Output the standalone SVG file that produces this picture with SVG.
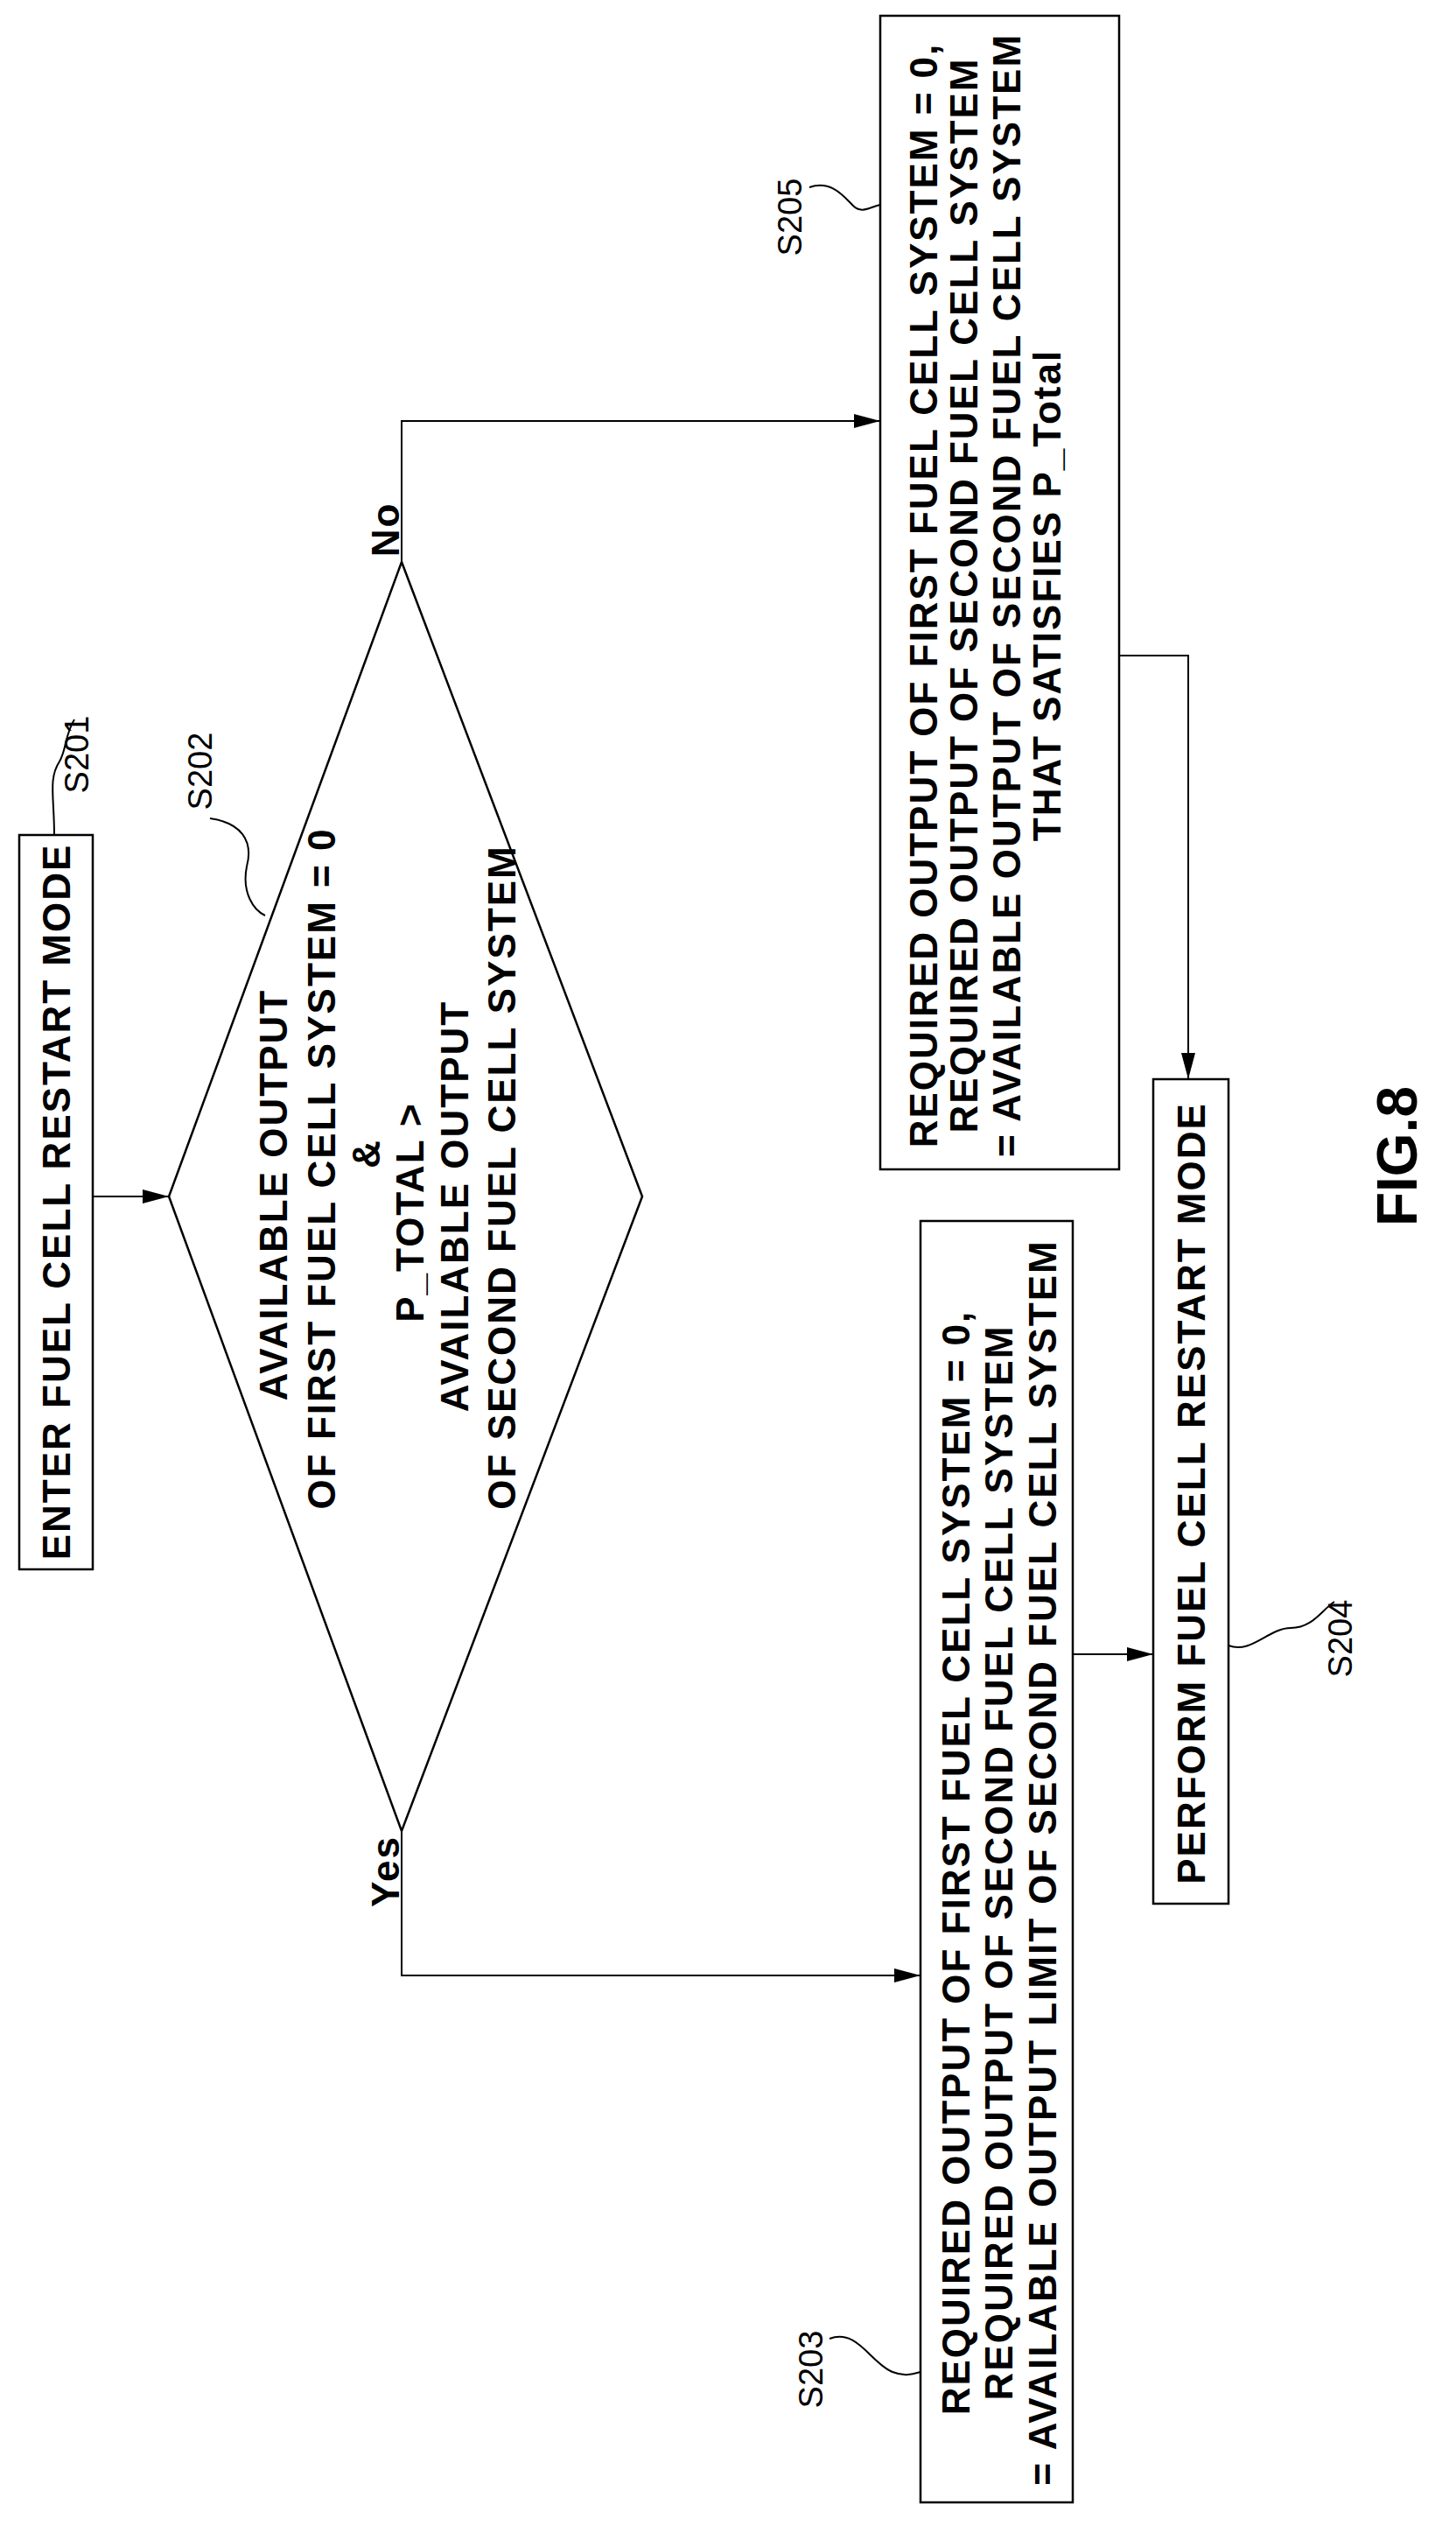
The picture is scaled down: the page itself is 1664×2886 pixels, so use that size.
<svg xmlns="http://www.w3.org/2000/svg" width="1664" height="2886" viewBox="0 0 1664 2886">
<style>
text{font-family:"Liberation Sans",Arial,sans-serif;font-weight:bold;fill:#000}
.t{font-size:44px;letter-spacing:2px}
.lb{font-size:38px;font-weight:normal}
.box{fill:#fff;stroke:#000;stroke-width:2.5}
.ln{fill:none;stroke:#000;stroke-width:2}
</style>
<defs>
<marker id="ah2" markerWidth="30" markerHeight="16" refX="30" refY="8" orient="auto" markerUnits="userSpaceOnUse" viewBox="0 0 30 16"><path d="M0,0 L30,8 L0,16 Z" fill="#000"/></marker></defs>
<rect width="1664" height="2886" fill="#fff"/>
<g id="connectors">
<path class="ln" d="M106,1367 H193" marker-end="url(#ah2)"/>
<path class="ln" d="M459,642 V481 H1006" marker-end="url(#ah2)"/>
<path class="ln" d="M459,2092 V2257 H1052" marker-end="url(#ah2)"/>
<path class="ln" d="M1279,749 H1358 V1233" marker-end="url(#ah2)"/>
<path class="ln" d="M1226,1890 H1318" marker-end="url(#ah2)"/>
</g>
<g id="S201">
<rect class="box" x="22" y="954" width="84" height="839"/>
<text class="t" transform="translate(64,1373) rotate(-90)" text-anchor="middle" dominant-baseline="central">ENTER FUEL CELL RESTART MODE</text>
<text class="lb" transform="translate(88,862) rotate(-90)" text-anchor="middle" dominant-baseline="central">S201</text>
<path class="ln" d="M62,954 C62,910 55,890 68,870 C76,856 74,840 85,822"/>
</g>
<g id="S202">
<polygon class="box" points="459,642 734,1367 459,2092 193,1367"/>
<g class="t" text-anchor="middle" dominant-baseline="central">
<text transform="translate(312,1365) rotate(-90)">AVAILABLE OUTPUT</text>
<text transform="translate(367,1335) rotate(-90)">OF FIRST FUEL CELL SYSTEM = 0</text>
<text transform="translate(418,1318) rotate(-90)">&amp;</text>
<text transform="translate(468,1385) rotate(-90)">P_TOTAL &gt;</text>
<text transform="translate(519,1378) rotate(-90)">AVAILABLE OUTPUT</text>
<text transform="translate(573,1345) rotate(-90)">OF SECOND FUEL CELL SYSTEM</text>
</g>
<text class="lb" transform="translate(229,881) rotate(-90)" text-anchor="middle" dominant-baseline="central">S202</text>
<path class="ln" d="M240,935 C275,940 290,960 282,990 C276,1020 290,1040 303,1046"/>
<text class="t" transform="translate(440,605) rotate(-90)" text-anchor="middle" dominant-baseline="central">No</text>
<text class="t" transform="translate(440,2138) rotate(-90)" text-anchor="middle" dominant-baseline="central">Yes</text>
</g>
<g id="S205">
<rect class="box" x="1006" y="18" width="273" height="1318"/>
<g class="t" text-anchor="middle" dominant-baseline="central">
<text transform="translate(1055,680) rotate(-90)">REQUIRED OUTPUT OF FIRST FUEL CELL SYSTEM = 0,</text>
<text transform="translate(1101,680) rotate(-90)">REQUIRED OUTPUT OF SECOND FUEL CELL SYSTEM</text>
<text transform="translate(1150,680) rotate(-90)">= AVAILABLE OUTPUT OF SECOND FUEL CELL SYSTEM</text>
<text transform="translate(1196,680) rotate(-90)">THAT SATISFIES P_Total</text>
</g>
<text class="lb" transform="translate(903,248) rotate(-90)" text-anchor="middle" dominant-baseline="central">S205</text>
<path class="ln" d="M925,214 C950,205 965,225 975,235 C985,245 995,236 1006,234"/>
</g>
<g id="S203">
<rect class="box" x="1052" y="1395" width="174" height="1464"/>
<g class="t" text-anchor="middle" dominant-baseline="central">
<text transform="translate(1092,2128) rotate(-90)">REQUIRED OUTPUT OF FIRST FUEL CELL SYSTEM = 0,</text>
<text transform="translate(1141,2128) rotate(-90)">REQUIRED OUTPUT OF SECOND FUEL CELL SYSTEM</text>
<text transform="translate(1191,2128) rotate(-90)">= AVAILABLE OUTPUT LIMIT OF SECOND FUEL CELL SYSTEM</text>
</g>
<text class="lb" transform="translate(927,2707) rotate(-90)" text-anchor="middle" dominant-baseline="central">S203</text>
<path class="ln" d="M948,2672 C980,2660 995,2700 1020,2710 C1035,2716 1045,2712 1052,2710"/>
</g>
<g id="S204">
<rect class="box" x="1318" y="1233" width="86" height="942"/>
<text class="t" transform="translate(1361,1706) rotate(-90)" text-anchor="middle" dominant-baseline="central">PERFORM FUEL CELL RESTART MODE</text>
<text class="lb" transform="translate(1532,1872) rotate(-90)" text-anchor="middle" dominant-baseline="central">S204</text>
<path class="ln" d="M1404,1880 C1430,1890 1450,1860 1475,1860 C1500,1860 1510,1840 1525,1830"/>
</g>
<text transform="translate(1597,1321) rotate(-90)" text-anchor="middle" dominant-baseline="central" style="font-size:64px">FIG.8</text>
</svg>
